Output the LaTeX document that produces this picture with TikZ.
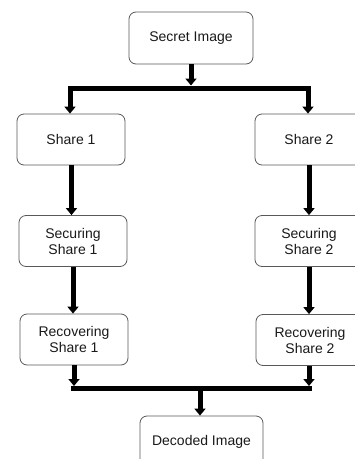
\documentclass[tikz,border=0pt]{standalone}
\usepackage{fontspec}
\setmainfont{Liberation Sans}
\usetikzlibrary{arrows.meta}
\tikzset{
  box/.style={draw=black!65, rounded corners=7pt, line width=0.8pt,
    minimum width=108pt, minimum height=51pt, align=center, inner sep=0pt,
    font=\fontsize{14}{16}\selectfont, text=black!90},
  wide/.style={minimum width=124pt, minimum height=52pt},
  conn/.style={line width=5pt, line join=miter},
  arr/.style={conn, -{Triangle[width=11pt,length=7pt]}},
}
\begin{document}
\begin{tikzpicture}[x=1pt,y=-1pt]
\useasboundingbox (0,0) rectangle (355,459);
\clip (0,0) rectangle (355,459);
\node[box,wide] (secret) at (191,38) {Secret Image};
\node[box] (s1) at (71,139.5) {Share 1};
\node[box] (s2) at (309,139.5) {Share 2};
\node[box] (sec1) at (73,241) {Securing\\Share 1};
\node[box] (sec2) at (309,241) {Securing\\Share 2};
\node[box] (rec1) at (74,339.5) {Recovering\\Share 1};
\node[box] (rec2) at (310,340) {Recovering\\Share 2};
\node[box,wide,minimum width=123pt] (dec) at (201.5,442) {Decoded Image};
\coordinate (topbar) at (191,88);
\coordinate (botbar) at (200,388.5);
% top split
\draw[arr] (secret.south) -- ([yshift=2.5pt]secret.south |- topbar);
\draw[arr] (topbar) -| ([xshift=-1pt]s1.north);
\draw[arr] (topbar) -| ([xshift=-1pt]s2.north);
% columns
\draw[arr] ([xshift=0.5pt]s1.south) -- ([xshift=0.5pt]s1.south |- sec1.north);
\draw[arr] (s2.south) -- (s2.south |- sec2.north);
\draw[arr] (sec1.south) -- (sec1.south |- rec1.north);
\draw[arr] (sec2.south) -- (sec2.south |- rec2.north);
% merge
\draw[arr] (rec1.south) -- ([yshift=2.5pt]rec1.south |- botbar);
\draw[arr] ([xshift=-1pt]rec2.south) -- ([xshift=-1pt,yshift=2.5pt]rec2.south |- botbar);
\draw[conn, line cap=rect] ([xshift=-1pt]rec1.south |- botbar) -- ([xshift=-1pt]rec2.south |- botbar);
\draw[arr] (botbar) -- (botbar |- dec.north);
\end{tikzpicture}
\end{document}
